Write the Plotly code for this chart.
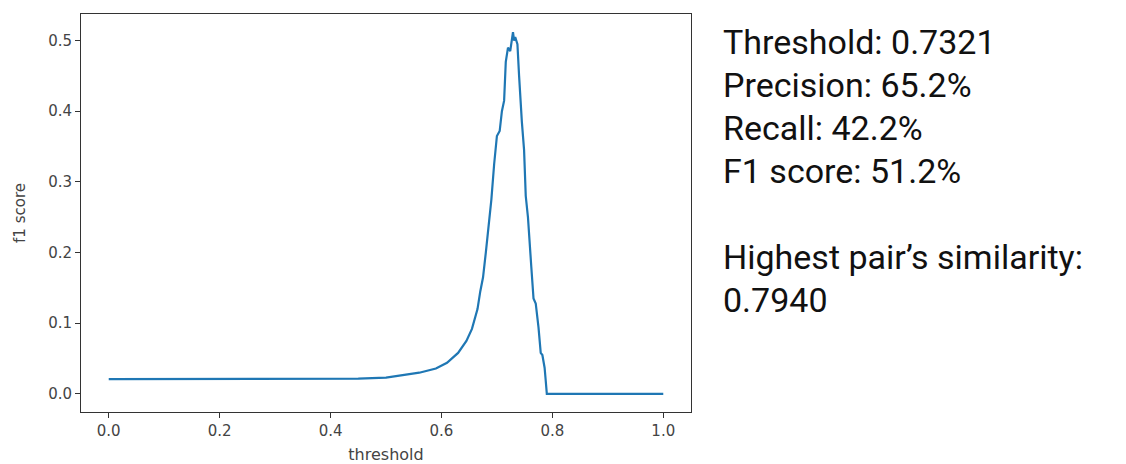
import plotly.graph_objects as go

thresholds = [0.0, 0.45, 0.50, 0.53, 0.56, 0.59, 0.61, 0.63, 0.645, 0.655, 0.665, 0.670,
              0.675, 0.680, 0.685, 0.690, 0.695, 0.700, 0.705, 0.709, 0.713, 0.716, 0.720,
              0.724, 0.729, 0.731, 0.733, 0.737, 0.740, 0.743, 0.745, 0.749, 0.752, 0.756,
              0.758, 0.762, 0.766, 0.770, 0.775, 0.779, 0.782, 0.786, 0.788, 0.790, 1.0]
f1_scores = [0.021, 0.0215, 0.023, 0.026, 0.030, 0.036, 0.044, 0.058, 0.075, 0.092, 0.120, 0.145,
             0.165, 0.200, 0.235, 0.275, 0.325, 0.365, 0.372, 0.400, 0.415, 0.470, 0.490,
             0.485, 0.512, 0.500, 0.505, 0.495, 0.450, 0.400, 0.385, 0.345, 0.280, 0.250,
             0.230, 0.180, 0.135, 0.128, 0.094, 0.058, 0.055, 0.037, 0.019, 0.0, 0.0]

x_ticks = [0.0, 0.2, 0.4, 0.6, 0.8, 1.0]
y_ticks = [0.0, 0.1, 0.2, 0.3, 0.4, 0.5]

info_lines = ["Threshold: 0.7321", "Precision: 65.2%", "Recall: 42.2%", "F1 score: 51.2%",
              "", "Highest pair’s similarity:", "0.7940"]

W, H = 1126, 464
fig = go.Figure()
fig.add_trace(go.Scatter(x=thresholds, y=f1_scores, mode="lines",
                         line=dict(color="#1f77b4", width=2.2), showlegend=False))

axis_common = dict(showgrid=False, zeroline=False, showline=True, linecolor="#333",
                   linewidth=1, mirror=True, ticks="outside", ticklen=5, tickcolor="#333",
                   tickfont=dict(family="DejaVu Sans", size=15, color="#444"))

fig.update_layout(
    width=W, height=H,
    margin=dict(l=0, r=0, t=0, b=0),
    paper_bgcolor="white", plot_bgcolor="white",
    xaxis=dict(domain=[81 / W, 691 / W], range=[-0.05, 1.05], tickvals=x_ticks,
               ticktext=[f"{v:.1f}" for v in x_ticks],
               title=dict(text="threshold", font=dict(family="DejaVu Sans", size=16, color="#444"), standoff=11),
               **axis_common),
    yaxis=dict(domain=[(H - 412) / H, (H - 14) / H], range=[-0.0256, 0.5376], tickvals=y_ticks,
               ticktext=[f"{v:.1f}" for v in y_ticks],
               title=dict(text="f1 score", font=dict(family="DejaVu Sans", size=15, color="#444"), standoff=18),
               **axis_common),
)

baselines = [55, 98, 141, 184, 227, 270, 313]
for line, base in zip(info_lines, baselines):
    if not line:
        continue
    fig.add_annotation(text=line, xref="paper", yref="paper", x=722 / W, y=(H - (base - 34)) / H,
                       xanchor="left", yanchor="top", showarrow=False, borderpad=0,
                       font=dict(family="Roboto", size=34, color="#111"))

fig.write_html("out.html")
